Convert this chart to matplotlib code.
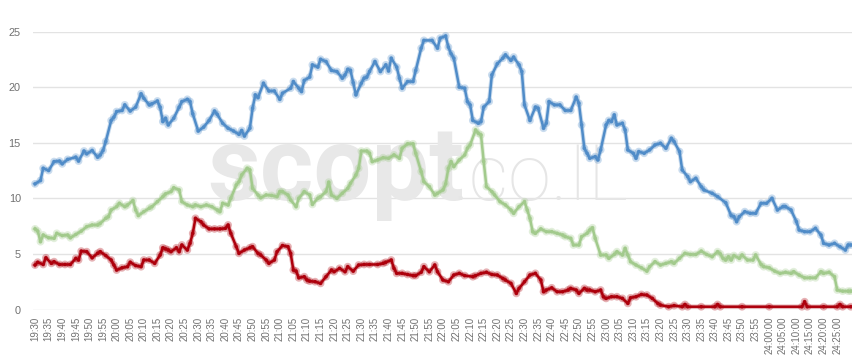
import matplotlib
matplotlib.use("Agg")
import matplotlib.pyplot as plt
import matplotlib.patheffects as pe

# minutes after 19:30 and values
blue_min = [0,2,3,5,7,9,10,12,15,16,18,19,21,23,24,25,26,28,29,30,32,33,35,37,39,40,42,43,45,46,47,48,49,51,53,54,56,57,58,60,62,64,66,67,69,71,73,75,76,77,79,80,81,82,84,86,88,90,91,94,95,97,98,99,101,102,104,105,107,109,111,113,114,115,116,117,118,120,121,122,123,125,127,129,130,131,133,134,135,137,139,140,142,143,146,148,149,151,152,153,154,156,158,159,160,161,163,164,165,167,168,170,172,173,175,176,178,179,180,182,184,185,187,188,189,191,193,195,197,199,200,201,202,203,204,206,207,208,210,211,212,213,214,216,217,218,220,221,222,224,226,228,230,232,234,235,237,238,240,241,243,245,246,249,251,254,256,257,258,259,261,263,265,267,269,271,273,275,276,278,280,281,283,285,287,289,290,292,294,296,298,299,300]
blue_val = [11.3,11.6,12.7,12.5,13.3,13.35,13.1,13.5,13.7,13.35,14.25,14.0,14.3,13.7,13.9,14.3,15.1,17.0,17.3,17.8,17.9,18.4,17.85,18.2,19.4,19.0,18.4,18.5,18.75,18.2,16.9,17.2,16.6,17.2,18.2,18.7,18.9,18.7,17.6,16.05,16.4,17.0,17.85,17.55,16.75,16.3,16.05,15.75,16.1,15.6,16.3,18.1,19.3,19.05,20.35,19.65,19.65,18.9,19.45,19.9,20.5,19.9,19.6,20.6,20.9,22.0,21.8,22.5,22.3,21.5,21.4,20.8,21.1,21.6,21.5,20.4,19.3,20.35,20.8,20.9,21.4,22.3,21.4,22.0,21.45,22.6,21.8,20.8,19.9,20.5,20.5,21.5,23.5,24.2,24.2,23.5,24.4,24.6,23.6,23.0,22.6,20.0,19.9,18.7,18.4,17.0,16.75,16.9,18.2,18.7,21.1,22.1,22.6,22.9,22.4,22.7,22.0,21.4,18.4,17.0,18.2,18.1,16.3,16.75,18.7,18.4,18.4,17.9,17.9,19.1,18.55,16.6,14.5,14.05,13.6,13.75,13.45,14.35,16.6,17.0,16.9,17.5,16.6,16.75,16.15,14.35,14.05,13.6,14.2,14.05,14.35,14.8,14.95,14.5,15.4,15.1,14.2,12.55,11.95,11.5,11.8,11.05,10.75,10.45,10.15,9.6,8.45,8.35,7.9,8.35,8.8,8.65,8.65,9.55,9.55,10.0,8.95,9.25,9.25,8.95,7.9,7.15,7.0,7.0,7.3,6.7,5.95,5.8,5.95,5.65,5.35,5.8,5.8]

green_min = [0,1,2,3,5,7,8,10,12,13,15,17,19,21,23,24,26,27,28,30,31,33,34,36,37,38,40,42,43,45,47,48,50,51,53,54,56,58,59,61,63,65,67,68,69,71,72,74,75,76,78,79,80,82,83,85,87,89,90,91,93,94,96,97,99,101,102,104,105,107,108,109,111,113,115,116,118,119,120,122,123,124,126,128,130,132,134,135,137,139,140,142,143,145,147,148,150,151,152,153,154,156,158,159,160,162,163,164,165,166,168,169,171,173,175,176,178,180,181,182,183,184,186,188,190,192,194,195,197,198,200,201,203,204,205,206,208,210,211,213,214,216,217,218,219,221,223,225,226,228,230,232,234,235,237,239,241,243,245,247,249,251,252,253,254,255,256,257,259,260,262,264,265,267,268,270,272,274,276,278,279,281,283,285,287,289,290,292,294,295,297,299,300]
green_val = [7.25,7.05,6.1,6.7,6.45,6.4,6.85,6.65,6.7,6.45,6.75,7.05,7.45,7.6,7.6,7.75,8.2,8.35,8.95,9.25,9.55,9.25,9.4,9.8,8.95,8.45,8.8,9.1,9.25,9.7,10.15,10.4,10.6,10.95,10.75,9.7,9.4,9.25,9.4,9.25,9.4,9.25,8.95,8.8,9.55,9.4,10.0,11.2,11.5,12.1,12.7,12.55,10.9,10.3,10.05,10.3,10.25,10.15,10.6,10.6,10.3,9.85,9.25,10.0,10.6,10.3,9.45,10.0,10.15,10.6,11.45,10.3,10.0,10.45,10.9,11.35,12.1,12.7,14.25,14.25,14.05,13.3,13.45,13.65,13.6,13.9,13.6,14.5,14.9,14.9,14.05,12.4,11.5,11.05,10.3,10.45,10.75,11.3,12.7,13.3,12.85,13.45,13.9,14.5,14.8,16.15,15.85,15.7,13.3,11.05,10.6,10.3,9.7,9.4,8.95,8.65,9.25,9.7,8.95,8.2,7.0,6.85,7.25,7.0,7.0,6.85,6.7,6.55,6.4,5.8,5.8,6.55,6.85,7.15,7.35,6.4,4.9,4.9,4.6,4.95,5.2,4.9,5.5,4.9,4.3,4.0,3.75,3.45,3.85,4.3,4.0,4.15,4.3,4.15,4.6,5.05,4.95,4.95,5.25,4.95,4.75,5.2,5.0,4.6,4.45,4.75,4.45,4.85,4.6,4.9,4.45,4.45,4.9,4.05,3.85,3.75,3.45,3.25,3.35,3.25,3.4,3.1,2.85,2.85,2.85,3.4,3.25,3.35,2.95,1.75,1.65,1.65,1.65]

red_min = [0,1,3,4,6,7,9,11,13,15,16,17,19,21,23,24,26,28,29,30,32,34,35,37,39,40,42,44,46,47,48,49,50,52,53,54,56,57,58,59,61,62,64,66,68,70,71,72,74,75,77,79,80,82,83,85,86,88,89,91,93,94,95,96,97,99,100,101,103,105,107,109,110,112,114,115,117,119,121,123,126,128,129,131,132,133,135,137,139,140,142,143,145,147,148,150,152,154,156,158,161,162,164,166,168,170,172,173,175,177,178,180,182,184,186,187,188,190,192,194,196,197,199,200,202,203,204,206,208,209,210,212,214,216,218,219,221,223,225,227,229,230,233,235,238,239,240,245,250,251,252,260,270,282,283,284,290,295,296,297,300]
red_val = [4.0,4.25,4.05,4.65,4.15,4.3,4.05,4.05,4.05,4.6,4.45,5.25,5.2,4.65,5.05,5.2,4.85,4.45,4.0,3.55,3.75,3.85,4.25,3.95,3.85,4.45,4.45,4.15,4.9,5.55,5.45,5.35,5.2,5.55,5.2,5.8,5.35,5.95,6.85,8.2,7.9,7.6,7.25,7.25,7.25,7.3,7.6,6.85,5.65,5.05,5.35,5.55,5.65,5.05,4.9,4.45,4.15,4.45,5.2,5.75,5.65,5.05,3.55,3.45,2.85,2.95,2.65,2.55,2.5,2.35,2.95,3.55,3.4,3.7,3.4,3.85,3.45,4.0,4.05,4.05,4.05,4.15,4.25,4.45,3.7,3.25,3.25,3.15,3.05,3.05,3.35,3.85,3.4,4.0,3.4,2.65,2.5,3.1,3.25,3.05,2.95,3.05,3.25,3.35,3.15,3.1,2.8,2.65,2.35,1.45,1.9,2.5,3.1,3.25,2.65,1.6,1.75,1.95,1.6,1.6,1.75,1.9,1.75,1.45,1.9,1.75,1.75,1.6,1.75,1.15,1.0,1.15,1.15,1.0,0.55,1.05,1.15,1.35,1.3,1.0,0.55,0.4,0.25,0.35,0.25,0.45,0.25,0.25,0.25,0.45,0.25,0.25,0.25,0.25,0.7,0.25,0.25,0.25,0.45,0.25,0.25]

tick_min = list(range(0, 300, 5))
tick_labels = ["19:30","19:35","19:40","19:45","19:50","19:55",
               "20:00","20:05","20:10","20:15","20:20","20:25","20:30","20:35","20:40","20:45","20:50","20:55",
               "21:00","21:05","21:10","21:15","21:20","21:25","21:30","21:35","21:40","21:45","21:50","21:55",
               "22:00","22:05","22:10","22:15","22:20","22:25","22:30","22:35","22:40","22:45","22:50","22:55",
               "23:00","23:05","23:10","23:15","23:20","23:25","23:30","23:35","23:40","23:45","23:50","23:55",
               "24:00:00","24:05:00","24:10:00","24:15:00","24:20:00","24:25:00"]
y_ticks = [0, 5, 10, 15, 20, 25]

fig = plt.figure(figsize=(8.53, 3.61), dpi=100)
ax = fig.add_axes([33.4/853, 51.5/361, (853-33.4)/853, 278.0/361])

series = [
    (blue_min, blue_val, "#508cc8"),
    (green_min, green_val, "#a2ca8c"),
    (red_min, red_val, "#ad000c"),
]
for t, v, c in series:
    ax.plot(t, v, color=c, lw=1.8, marker="o", ms=2.4, mew=0, zorder=3,
            clip_on=False, solid_joinstyle="round",
            path_effects=[pe.Stroke(linewidth=3.2, foreground=c, alpha=0.3), pe.Normal()])

ax.set_xlim(-0.6, 300.8)
ax.set_ylim(0, 25)
ax.set_yticks(y_ticks)
ax.set_xticks(tick_min)
ax.set_xticklabels(tick_labels, rotation=90, fontsize=7.0, color="#707070",
                   family="Liberation Sans")
ax.set_yticklabels([str(y) for y in y_ticks], fontsize=7.8, color="#707070",
                   family="Liberation Sans")
ax.tick_params(axis="both", length=0)
ax.tick_params(axis="y", pad=9)
ax.tick_params(axis="x", pad=5)
ax.grid(axis="y", color="#e3e3e3", lw=1.0)
ax.set_axisbelow(True)
for s in ax.spines.values():
    s.set_visible(False)

# watermark
ax.text(207/853, (361-200)/361, "scopt", transform=fig.transFigure, fontsize=74,
        fontweight="bold", family="Roboto", color="#e8e8e8", ha="left", va="baseline", zorder=1)
ax.text(452/853, (361-200)/361, ".co.IL", transform=fig.transFigure, fontsize=56,
        fontweight="light", family="Roboto", color="#e6e6e6", ha="left", va="baseline", zorder=1)

fig.savefig("out.png", dpi=100)
